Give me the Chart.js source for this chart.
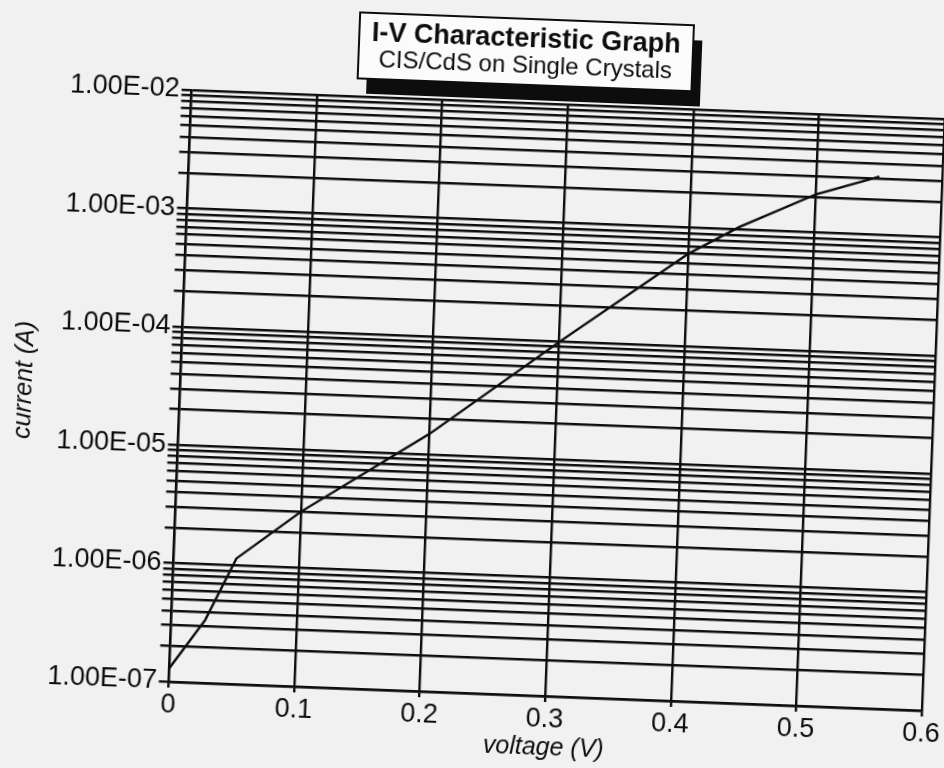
<!DOCTYPE html>
<html>
<head>
<meta charset="utf-8">
<title>I-V Characteristic Graph</title>
<script src="https://cdn.jsdelivr.net/npm/chart.js@4.4.0/dist/chart.umd.min.js"></script>
<style>
  html, body { margin: 0; padding: 0; width: 944px; height: 768px; overflow: hidden; background: #f1f1f1; }
  /* a folha escaneada esta levemente torta */
  #folha { position: absolute; left: -20px; top: -20px; width: 1000px; height: 820px;
           transform-origin: 492px 404px; transform: rotate(2.2deg); }
</style>
</head>
<body>
<div id="folha"><canvas id="graficoIV" width="1000" height="820"></canvas></div>
<script>
// dados (tensao em V, corrente em A)
var tensao = [0, 0.027, 0.05, 0.1, 0.2, 0.3, 0.4, 0.44, 0.5, 0.55];
var corrente = [1.3e-7, 3.4e-7, 1.15e-6, 3.0e-6, 1.5e-5, 9.8e-5, 6.0e-4, 1.05e-3, 2.1e-3, 3.1e-3];

// ticks do eixo x
var ticksTensao = [0, 0.1, 0.2, 0.3, 0.4, 0.5, 0.6];
var rotulosTensao = ['0', '0.1', '0.2', '0.3', '0.4', '0.5', '0.6'];

// decadas do eixo y
var decadas = [1e-7, 1e-6, 1e-5, 1e-4, 1e-3, 1e-2];
var rotulosDecadas = ['1.00E-07', '1.00E-06', '1.00E-05', '1.00E-04', '1.00E-03', '1.00E-02'];

var titulo = 'I-V Characteristic Graph';
var subtitulo = 'CIS/CdS on Single Crystals';

var corLinha = '#0d0d0d';
var familia = "'Liberation Sans', Arial, Helvetica, sans-serif";

// linhas menores do papel log (1..9 em cada decada)
var ticksCorrente = [];
for (var i = 0; i < decadas.length - 1; i++) {
  for (var k = 1; k <= 9; k++) {
    ticksCorrente.push(k == 1 ? decadas[i] : decadas[i] * k);
  }
}
ticksCorrente.push(decadas[decadas.length - 1]);

var pontos = [];
for (var j = 0; j < tensao.length; j++) {
  pontos.push({ x: tensao[j], y: corrente[j] });
}

// caixa do titulo com sombra
var caixaTitulo = {
  id: 'caixaTitulo',
  afterDraw: function (grafico) {
    var c = grafico.ctx;
    c.save();
    c.fillStyle = '#0d0d0d';
    c.fillRect(375, 52, 334, 66);
    c.fillStyle = '#fbfbfb';
    c.fillRect(366, 37, 334, 66);
    c.lineWidth = 2;
    c.strokeStyle = '#0d0d0d';
    c.strokeRect(366, 37, 334, 66);
    c.fillStyle = '#0d0d0d';
    c.textAlign = 'center';
    c.textBaseline = 'alphabetic';
    c.font = 'bold 27px ' + familia;
    c.fillText(titulo, 533, 65);
    c.font = '24px ' + familia;
    c.fillText(subtitulo, 533, 91);
    c.restore();
  }
};

var ctx = document.getElementById('graficoIV');

new Chart(ctx, {
  type: 'scatter',
  data: {
    datasets: [{
      data: pontos,
      showLine: true,
      borderColor: corLinha,
      borderWidth: 2.4,
      pointRadius: 0,
      tension: 0,
      fill: false
    }]
  },
  options: {
    responsive: false,
    animation: false,
    devicePixelRatio: 1,
    layout: { padding: { left: 0, right: 46, top: 121, bottom: 0 } },
    plugins: {
      legend: { display: false },
      tooltip: { enabled: false }
    },
    scales: {
      x: {
        type: 'linear',
        min: 0,
        max: 0.6,
        afterBuildTicks: function (eixo) {
          eixo.ticks = ticksTensao.map(function (v) { return { value: v }; });
        },
        afterFit: function (eixo) { eixo.height = 107; },
        grid: { color: corLinha, lineWidth: 2.4, tickLength: 6 },
        border: { color: corLinha, width: 2.4 },
        ticks: {
          color: '#0d0d0d',
          font: { family: familia, size: 27 },
          padding: 1,
          autoSkip: false,
          maxRotation: 0,
          callback: function (valor, indice) { return rotulosTensao[indice]; }
        },
        title: {
          display: true,
          text: 'voltage (V)',
          color: '#0d0d0d',
          font: { family: familia, size: 25, style: 'italic' },
          padding: { top: 0, bottom: 40 }
        }
      },
      y: {
        type: 'logarithmic',
        min: 1e-7,
        max: 1e-2,
        afterBuildTicks: function (eixo) {
          eixo.ticks = ticksCorrente.map(function (v) { return { value: v }; });
        },
        afterFit: function (eixo) { eixo.width = 200.5; },
        grid: { color: corLinha, lineWidth: 2.4, tickLength: 10 },
        border: { color: corLinha, width: 2.4 },
        ticks: {
          color: '#0d0d0d',
          font: { family: familia, size: 27 },
          padding: 2,
          autoSkip: false,
          callback: function (valor) {
            var pos = decadas.indexOf(valor);
            return pos >= 0 ? rotulosDecadas[pos] : '';
          }
        },
        title: {
          display: true,
          text: 'current (A)',
          color: '#0d0d0d',
          font: { family: familia, size: 25, style: 'italic' },
          padding: { top: 30, bottom: 0 }
        }
      }
    }
  },
  plugins: [caixaTitulo]
});
</script>
</body>
</html>
